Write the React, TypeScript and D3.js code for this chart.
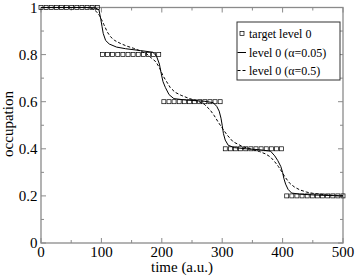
import React, { useRef, useEffect } from 'react';
import * as d3 from 'd3';

// target occupation of level 0 (squares)
const targetTime = [
  0, 8.5, 16.9, 25.4, 33.9, 42.4, 50.8, 59.3, 67.8, 76.3, 84.7, 93.2,
  101.7, 110.2, 118.6, 127.1, 135.6, 144.1, 152.5, 161.0, 169.5, 178.0, 186.4, 194.9,
  203.4, 211.9, 220.3, 228.8, 237.3, 245.8, 254.2, 262.7, 271.2, 279.7, 288.1, 296.6,
  305.1, 313.6, 322.0, 330.5, 339.0, 347.5, 355.9, 364.4, 372.9, 381.4, 389.8, 398.3,
  406.8, 415.3, 423.7, 432.2, 440.7, 449.2, 457.6, 466.1, 474.6, 483.1, 491.5, 500,
];
const targetLevel = [
  1, 1, 1, 1, 1, 1, 1, 1, 1, 1, 1, 1,
  0.8, 0.8, 0.8, 0.8, 0.8, 0.8, 0.8, 0.8, 0.8, 0.8, 0.8, 0.8,
  0.6, 0.6, 0.6, 0.6, 0.6, 0.6, 0.6, 0.6, 0.6, 0.6, 0.6, 0.6,
  0.4, 0.4, 0.4, 0.4, 0.4, 0.4, 0.4, 0.4, 0.4, 0.4, 0.4, 0.4,
  0.2, 0.2, 0.2, 0.2, 0.2, 0.2, 0.2, 0.2, 0.2, 0.2, 0.2, 0.2,
];

// level 0, alpha = 0.05 (solid)
const solidTime = [
  0, 80, 90, 96, 99, 101, 103, 107, 113, 125, 140, 165, 185, 191, 196, 199,
  202, 206, 212, 220, 240, 270, 285, 291, 295, 298, 300, 302, 305, 310, 320, 340,
  362, 380, 387, 392, 397, 400, 402, 405, 409, 415, 430, 460, 500,
];
const solidLevel = [
  1, 1, 0.998, 0.99, 0.95, 0.92, 0.89, 0.86, 0.845, 0.832, 0.825, 0.817, 0.81, 0.795, 0.76, 0.72,
  0.685, 0.66, 0.63, 0.613, 0.607, 0.602, 0.596, 0.58, 0.56, 0.53, 0.5, 0.465, 0.437, 0.415, 0.405, 0.4,
  0.396, 0.39, 0.37, 0.35, 0.325, 0.3, 0.275, 0.25, 0.228, 0.212, 0.207, 0.203, 0.2,
];

// level 0, alpha = 0.5 (dashed)
const dashTime = [
  0, 75, 85, 92, 97, 100, 104, 110, 115, 122, 131, 142, 153, 165, 175, 183,
  190, 196, 202, 208, 214, 222, 232, 245, 260, 270, 280, 287, 293, 300, 308, 318,
  334, 350, 362, 372, 380, 387, 393, 398, 404, 412, 420, 429, 440, 450, 470, 490, 500,
];
const dashLevel = [
  1, 1, 0.996, 0.982, 0.965, 0.95, 0.928, 0.895, 0.876, 0.86, 0.848, 0.836, 0.827, 0.815, 0.803, 0.785,
  0.77, 0.745, 0.71, 0.685, 0.66, 0.64, 0.627, 0.614, 0.602, 0.59, 0.565, 0.54, 0.515, 0.488, 0.459, 0.43,
  0.409, 0.397, 0.388, 0.378, 0.365, 0.345, 0.325, 0.305, 0.28, 0.253, 0.237, 0.225, 0.216, 0.211, 0.205, 0.201, 0.2,
];

const xTicks = [0, 100, 200, 300, 400, 500];
const xMinor = [50, 150, 250, 350, 450];
const yTicks = [0, 0.2, 0.4, 0.6, 0.8, 1];
const yMinor = [0.1, 0.3, 0.5, 0.7, 0.9];
const yTickLabels = ['0', '0.2', '0.4', '0.6', '0.8', '1'];
const legendLabels = ['target level 0', 'level 0 (\u03b1=0.05)', 'level 0 (\u03b1=0.5)'];

const App = () => {
  const ref = useRef<SVGSVGElement>(null);

  useEffect(() => {
    const svg = d3.select(ref.current);
    svg.selectAll('*').remove();

    const left = 41, right = 343, top = 7.5, bottom = 243;
    const font = '"Liberation Serif", "Times New Roman", serif';
    const axisColor = '#8a8a8a';

    const x = d3.scaleLinear().domain([0, 500]).range([left, right]);
    const y = d3.scaleLinear().domain([0, 1]).range([bottom, top]);

    const g = svg.append('g');

    // frame
    g.append('rect').attr('x', left).attr('y', top).attr('width', right - left).attr('height', bottom - top)
      .attr('fill', 'none').attr('stroke', axisColor).attr('stroke-width', 1.3);

    // inward ticks on all four sides
    const tickLines = (vals: number[], len: number) => {
      vals.forEach((v) => {
        g.append('line').attr('x1', x(v)).attr('x2', x(v)).attr('y1', bottom).attr('y2', bottom - len).attr('stroke', axisColor);
        g.append('line').attr('x1', x(v)).attr('x2', x(v)).attr('y1', top).attr('y2', top + len).attr('stroke', axisColor);
      });
    };
    const tickLinesY = (vals: number[], len: number) => {
      vals.forEach((v) => {
        g.append('line').attr('y1', y(v)).attr('y2', y(v)).attr('x1', left).attr('x2', left + len).attr('stroke', axisColor);
        g.append('line').attr('y1', y(v)).attr('y2', y(v)).attr('x1', right).attr('x2', right - len).attr('stroke', axisColor);
      });
    };
    tickLines(xTicks, 5);
    tickLines(xMinor, 3);
    tickLinesY(yTicks, 5);
    tickLinesY(yMinor, 3);

    // tick labels
    g.selectAll('text.xt').data(xTicks).join('text').attr('class', 'xt')
      .attr('x', (d) => x(d)).attr('y', 256.5).attr('text-anchor', 'middle')
      .style('font-family', font).style('font-size', '15px').text((d) => String(d));
    g.selectAll('text.yt').data(yTicks).join('text').attr('class', 'yt')
      .attr('x', 37.5).attr('y', (d) => y(d)).attr('dy', '0.35em').attr('text-anchor', 'end')
      .style('font-family', font).style('font-size', '15px').text((d, i) => yTickLabels[i]);

    // axis titles
    g.append('text').attr('x', 182).attr('y', 271.5).attr('text-anchor', 'middle')
      .style('font-family', font).style('font-size', '15px').text('time (a.u.)');
    g.append('text').attr('transform', 'translate(13,124) rotate(-90)').attr('text-anchor', 'middle')
      .style('font-family', font).style('font-size', '15px').text('occupation');

    const line = d3.line<[number, number]>().x((d) => x(d[0])).y((d) => y(d[1]));

    // dashed curve
    g.append('path').attr('d', line(dashTime.map((t, i) => [t, dashLevel[i]]))).attr('fill', 'none')
      .attr('stroke', '#000').attr('stroke-width', 1).attr('stroke-dasharray', '3,2');
    // solid curve
    g.append('path').attr('d', line(solidTime.map((t, i) => [t, solidLevel[i]]))).attr('fill', 'none')
      .attr('stroke', '#000').attr('stroke-width', 1);

    // target squares
    const s = 4;
    g.selectAll('rect.tg').data(targetTime).join('rect').attr('class', 'tg')
      .attr('x', (d) => x(d) - s / 2).attr('y', (d, i) => y(targetLevel[i]) - s / 2)
      .attr('width', s).attr('height', s).attr('fill', 'none').attr('stroke', '#000').attr('stroke-width', 0.7);

    // legend
    const lg = g.append('g');
    lg.append('rect').attr('x', 237).attr('y', 22).attr('width', 103).attr('height', 58)
      .attr('fill', '#fff').attr('stroke', '#333').attr('stroke-width', 1);
    const rows = [33.5, 52.5, 70.5];
    lg.append('rect').attr('x', 240).attr('y', rows[0] - 2).attr('width', 4).attr('height', 4)
      .attr('fill', 'none').attr('stroke', '#000').attr('stroke-width', 0.7);
    lg.append('line').attr('x1', 237.5).attr('x2', 246).attr('y1', rows[1]).attr('y2', rows[1]).attr('stroke', '#000');
    lg.append('line').attr('x1', 237.5).attr('x2', 246).attr('y1', rows[2]).attr('y2', rows[2])
      .attr('stroke', '#000').attr('stroke-dasharray', '3,2');
    lg.selectAll('text').data(legendLabels).join('text')
      .attr('x', 249).attr('y', (d, i) => rows[i]).attr('dy', '0.35em')
      .style('font-family', font).style('font-size', '12px').text((d) => d);
  }, []);

  return (
    <svg ref={ref} width={357} height={276}
      style={{ position: 'absolute', left: 0, top: 0, background: '#fff' }} />
  );
};

export default App;
